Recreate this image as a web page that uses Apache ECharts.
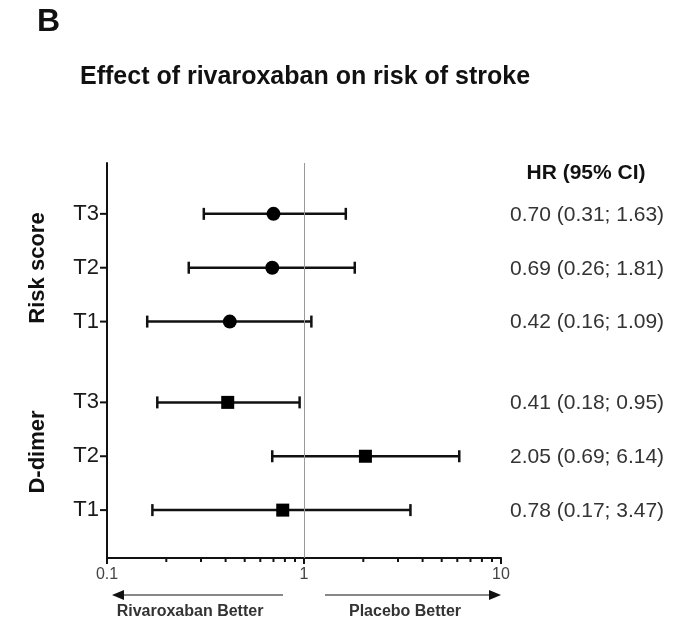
<!DOCTYPE html>
<html>
<head>
<meta charset="utf-8">
<script src="https://cdn.jsdelivr.net/npm/echarts@6/dist/echarts.min.js"></script>
<style>
html,body{margin:0;padding:0;background:#fff;}
#main{width:677px;height:624px;}
</style>
</head>
<body>
<div id="main"></div>
<script>
// ---- data ----
const groups = ['Risk score', 'Risk score', 'Risk score', 'D-dimer', 'D-dimer', 'D-dimer'];
const rowLabels = ['T3', 'T2', 'T1', 'T3', 'T2', 'T1'];
const rowPos = [6.5, 5.5, 4.5, 3, 2, 1];
const hr = [0.70, 0.69, 0.42, 0.41, 2.05, 0.78];
const lower = [0.31, 0.26, 0.16, 0.18, 0.69, 0.17];
const upper = [1.63, 1.81, 1.09, 0.95, 6.14, 3.47];
const xTickLabels = [0.1, 1, 10];
const minorTickValues = [0.2, 0.3, 0.4, 0.5, 0.6, 0.7, 0.8, 0.9, 2, 3, 4, 5, 6, 7, 8, 9];
const yMin = 0.111, yMax = 7.444;

const FONT = '"Liberation Sans", Arial, Helvetica, sans-serif';
const fmt = v => v.toFixed(2);
const hrText = hr.map((v, i) => fmt(v) + ' (' + fmt(lower[i]) + '; ' + fmt(upper[i]) + ')');

const barData = rowPos.map((p, i) => [lower[i], upper[i], p, i]);
const circleData = [], squareData = [];
rowPos.forEach((p, i) => {
  (groups[i] === 'Risk score' ? circleData : squareData).push([hr[i], p]);
});

const chart = echarts.init(document.getElementById('main'), null, {renderer: 'canvas'});
chart.setOption({
  backgroundColor: '#fff',
  animation: false,
  grid: {left: 107, right: 176, top: 163, bottom: 66},
  xAxis: {
    type: 'log', logBase: 10, min: 0.1, max: 10,
    axisLine: {show: true, lineStyle: {color: '#111', width: 2}},
    axisTick: {show: true, length: 6, lineStyle: {color: '#111', width: 2}},
    axisLabel: {
      color: '#444', fontSize: 16, fontFamily: FONT, margin: 9,
      formatter: v => { const n = xTickLabels.find(t => Math.abs(t - v) < 1e-9); return n === undefined ? '' : String(n); }
    },
    splitLine: {show: false},
    minorTick: {show: false}
  },
  yAxis: {
    type: 'value', min: yMin, max: yMax,
    axisLine: {show: true, lineStyle: {color: '#111', width: 2}},
    axisTick: {show: false}, axisLabel: {show: false}, splitLine: {show: false}
  },
  graphic: [
    {type: 'text', x: 37, y: 22, style: {text: 'B', font: 'bold 32px ' + FONT, fill: '#111', textVerticalAlign: 'middle'}},
    {type: 'text', x: 80, y: 77, style: {text: 'Effect of rivaroxaban on risk of stroke', font: 'bold 25px ' + FONT, fill: '#111', textVerticalAlign: 'middle'}},
    {type: 'text', x: 586, y: 173, style: {text: 'HR (95% CI)', font: 'bold 21px ' + FONT, fill: '#111', textAlign: 'center', textVerticalAlign: 'middle'}},
    {type: 'text', x: 38, y: 268, rotation: Math.PI / 2, style: {text: 'Risk score', font: 'bold 22px ' + FONT, fill: '#111', textAlign: 'center', textVerticalAlign: 'middle'}},
    {type: 'text', x: 38, y: 452, rotation: Math.PI / 2, style: {text: 'D-dimer', font: 'bold 22px ' + FONT, fill: '#111', textAlign: 'center', textVerticalAlign: 'middle'}},
    {type: 'line', shape: {x1: 122, y1: 595, x2: 283, y2: 595}, style: {stroke: '#888', lineWidth: 2}},
    {type: 'polygon', shape: {points: [[112, 595], [124, 590], [124, 600]]}, style: {fill: '#111'}},
    {type: 'line', shape: {x1: 325, y1: 595, x2: 490, y2: 595}, style: {stroke: '#888', lineWidth: 2}},
    {type: 'polygon', shape: {points: [[501, 595], [489, 590], [489, 600]]}, style: {fill: '#111'}},
    {type: 'text', x: 190, y: 612, style: {text: 'Rivaroxaban Better', font: 'bold 16px ' + FONT, fill: '#333', textAlign: 'center', textVerticalAlign: 'middle'}},
    {type: 'text', x: 405, y: 612, style: {text: 'Placebo Better', font: 'bold 16px ' + FONT, fill: '#333', textAlign: 'center', textVerticalAlign: 'middle'}}
  ],
  series: [
    {
      type: 'custom', name: 'minorTicks', clip: false, silent: true,
      data: minorTickValues.map(v => [v, yMin]),
      encode: {x: 0, y: 1},
      renderItem: (params, api) => {
        const p = api.coord([api.value(0), yMin]);
        return {type: 'line', shape: {x1: p[0], y1: p[1], x2: p[0], y2: p[1] + 4}, style: {stroke: '#111', lineWidth: 2}};
      },
      markLine: {
        silent: true, symbol: ['none', 'none'], label: {show: false},
        lineStyle: {color: '#999', width: 1, type: 'solid'},
        data: [{xAxis: 1}]
      }
    },
    {
      type: 'custom', name: 'ci', clip: false, silent: true,
      data: barData,
      encode: {x: [0, 1], y: 2},
      renderItem: (params, api) => {
        const i = api.value(3);
        const a = api.coord([api.value(0), api.value(2)]);
        const b = api.coord([api.value(1), api.value(2)]);
        const ax = api.coord([0.1, api.value(2)])[0];
        const y = a[1];
        const cs = params.coordSys;
        const st = {stroke: '#111', lineWidth: 2.5};
        return {
          type: 'group',
          children: [
            {type: 'line', shape: {x1: a[0], y1: y, x2: b[0], y2: y}, style: st},
            {type: 'line', shape: {x1: a[0], y1: y - 6, x2: a[0], y2: y + 6}, style: st},
            {type: 'line', shape: {x1: b[0], y1: y - 6, x2: b[0], y2: y + 6}, style: st},
            {type: 'line', shape: {x1: ax - 7, y1: y, x2: ax, y2: y}, style: {stroke: '#111', lineWidth: 2}},
            {type: 'text', x: ax - 8, y: y, style: {text: rowLabels[i], font: '22px ' + FONT, fill: '#1a1a1a', textAlign: 'right', textVerticalAlign: 'middle'}},
            {type: 'text', x: cs.x + cs.width + 9, y: y + 1, style: {text: hrText[i], font: '21px ' + FONT, fill: '#333', textAlign: 'left', textVerticalAlign: 'middle'}}
          ]
        };
      }
    },
    {
      type: 'scatter', name: 'Risk score', data: circleData,
      symbol: 'circle', symbolSize: 14, itemStyle: {color: '#000', opacity: 1}, silent: true
    },
    {
      type: 'scatter', name: 'D-dimer', data: squareData,
      symbol: 'rect', symbolSize: 13, itemStyle: {color: '#000', opacity: 1}, silent: true
    }
  ]
});
</script>
</body>
</html>
